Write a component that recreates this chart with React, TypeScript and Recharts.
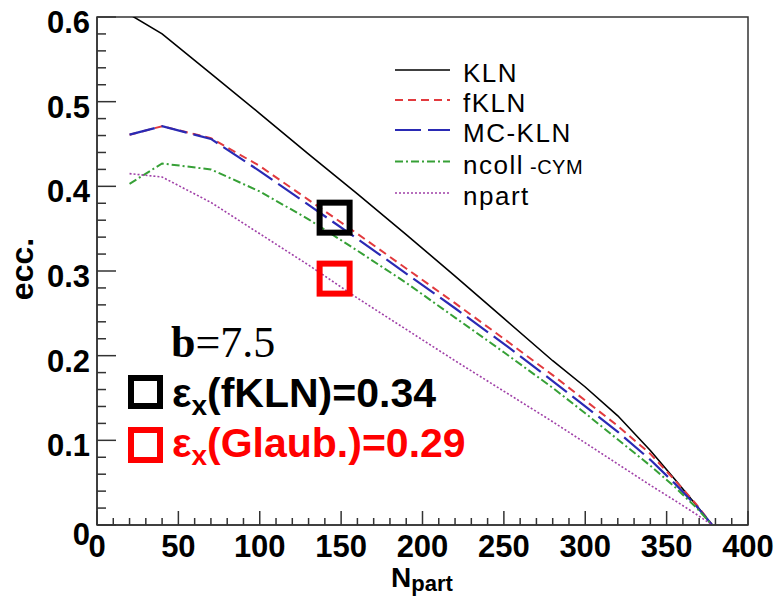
import {
  ComposedChart,
  Line,
  Scatter,
  XAxis,
  YAxis,
  ReferenceArea,
} from "recharts";

const SANS = "'Liberation Sans', Arial, sans-serif";
const SERIF = "'Liberation Serif', 'Times New Roman', serif";
const AXIS = "#333";

// N_part points shared by all curves
const npart = [20, 40, 70, 100, 130, 160, 190, 220, 250, 280, 300, 320, 340, 355, 368, 378];
const kln = [0.603, 0.58, 0.533, 0.486, 0.438, 0.391, 0.343, 0.294, 0.244, 0.194, 0.163, 0.129, 0.088, 0.054, 0.024, 0];
const fkln = [0.461, 0.471, 0.457, 0.424, 0.384, 0.344, 0.303, 0.262, 0.22, 0.177, 0.147, 0.117, 0.084, 0.053, 0.025, 0];
const mckln = [0.461, 0.471, 0.456, 0.418, 0.378, 0.338, 0.297, 0.256, 0.214, 0.17, 0.14, 0.11, 0.077, 0.049, 0.023, 0];
const ncoll = [0.403, 0.427, 0.42, 0.394, 0.361, 0.324, 0.286, 0.245, 0.204, 0.162, 0.132, 0.101, 0.07, 0.045, 0.021, 0];
const npartEcc = [0.415, 0.411, 0.381, 0.344, 0.307, 0.268, 0.231, 0.194, 0.158, 0.122, 0.097, 0.072, 0.047, 0.029, 0.013, 0];

// open boxes marking the quoted eccentricities
const boxN = [146, 146];
const boxEcc = [0.363, 0.291];
const boxColor = ["#000", "#ff0000"];

const xTicks = [0, 10, 20, 30, 40, 50, 60, 70, 80, 90, 100, 110, 120, 130, 140, 150, 160, 170, 180, 190, 200,
  210, 220, 230, 240, 250, 260, 270, 280, 290, 300, 310, 320, 330, 340, 350, 360, 370, 380, 390, 400];
const yTicks = [0, 0.02, 0.04, 0.06, 0.08, 0.1, 0.12, 0.14, 0.16, 0.18, 0.2, 0.22, 0.24, 0.26, 0.28, 0.3,
  0.32, 0.34, 0.36, 0.38, 0.4, 0.42, 0.44, 0.46, 0.48, 0.5, 0.52, 0.54, 0.56, 0.58, 0.6];

const series = [
  { key: "kln", name: "KLN", color: "#000", width: 1.6, dash: undefined },
  { key: "fkln", name: "fKLN", color: "#e23a3e", width: 2, dash: "8 5" },
  { key: "mckln", name: "MC-KLN", color: "#2a2ab4", width: 2.2, dash: "26 7" },
  { key: "ncoll", name: "ncoll", color: "#36a036", width: 2, dash: "8 3 2 3" },
  { key: "npart", name: "npart", color: "#a040a8", width: 1.6, dash: "2 2" },
];

const data = npart.map((n, i) => ({
  n,
  kln: kln[i],
  fkln: fkln[i],
  mckln: mckln[i],
  ncoll: ncoll[i],
  npart: npartEcc[i],
}));

const boxes = boxN.map((n, i) => ({ n, ecc: boxEcc[i], color: boxColor[i] }));

const XTick = ({ x, y, payload }: any) => {
  const major = payload.value % 50 === 0;
  return (
    <g>
      <line x1={x} x2={x} y1={y} y2={y - (major ? 14 : 7)} stroke={AXIS} strokeWidth={1.5} />
      {major && (
        <text x={x} y={y + 32} textAnchor="middle" fontSize={31} fontWeight="bold" fontFamily={SANS} fill="#000">
          {payload.value}
        </text>
      )}
    </g>
  );
};

const YTick = ({ x, y, payload }: any) => {
  const v = payload.value;
  const major = Math.round(v * 100) % 10 === 0;
  return (
    <g>
      <line x1={x} x2={x + (major ? 19 : 9)} y1={y} y2={y} stroke={AXIS} strokeWidth={1.5} />
      {major && (
        <text x={x - 7} y={y + (v === 0 ? 20 : 16)} textAnchor="end" fontSize={31} fontWeight="bold" fontFamily={SANS} fill="#000">
          {v === 0 ? "0" : v.toFixed(1)}
        </text>
      )}
    </g>
  );
};

const BoxShape = ({ cx, cy, payload }: any) => (
  <rect x={cx - 15} y={cy - 15} width={30} height={30} fill="none" stroke={payload.color} strokeWidth={6} />
);

const legendRows = [70, 100, 130, 161.5, 193];

export default function App() {
  return (
    <div style={{ position: "absolute", left: 0, top: 0, width: 775, height: 604, background: "#fff" }}>
      <ComposedChart width={775} height={604} data={data} margin={{ top: 17, right: 27, bottom: 0, left: 0 }}>
        <XAxis
          dataKey="n"
          type="number"
          domain={[0, 400]}
          ticks={xTicks}
          interval={0}
          height={79}
          tickSize={0}
          tickMargin={0}
          stroke={AXIS}
          strokeWidth={1.5}
          tick={<XTick />}
        />
        <YAxis
          type="number"
          domain={[0, 0.6]}
          allowDataOverflow
          ticks={yTicks}
          interval={0}
          width={97}
          tickSize={0}
          tickMargin={0}
          stroke={AXIS}
          strokeWidth={1.5}
          tick={<YTick />}
        />
        <ReferenceArea x1={0} x2={400} y1={0} y2={0.6} fill="none" stroke={AXIS} strokeWidth={1.5} ifOverflow="visible" />
        {series.map((s) => (
          <Line
            key={s.key}
            dataKey={s.key}
            type="linear"
            stroke={s.color}
            strokeWidth={s.width}
            strokeDasharray={s.dash}
            dot={false}
            activeDot={false}
            isAnimationActive={false}
          />
        ))}
        <Scatter data={boxes} dataKey="ecc" shape={<BoxShape />} isAnimationActive={false} />
      </ComposedChart>

      <svg width={775} height={604} style={{ position: "absolute", left: 0, top: 0, pointerEvents: "none" }}>
        {/* axis titles */}
        <text x={33} y={269} transform="rotate(-90 33 269)" textAnchor="middle" fontSize={32} fontWeight="bold" fontFamily={SANS}>
          ecc.
        </text>
        <text x={391} y={587} fontSize={28} fontWeight="bold" fontFamily={SANS}>
          N<tspan fontSize={22} dy={4}>part</tspan>
        </text>

        {/* legend */}
        {series.map((s, i) => (
          <g key={s.key}>
            <line x1={395} x2={450} y1={legendRows[i]} y2={legendRows[i]} stroke={s.color} strokeWidth={s.width} strokeDasharray={s.dash} />
            <text x={463} y={legendRows[i] + 12} fontSize={26} letterSpacing={1.5} fontFamily={SANS} fill="#000">
              {s.name}
              {s.key === "ncoll" && <tspan fontSize={20} dx={6} letterSpacing={0.5}>-CYM</tspan>}
            </text>
          </g>
        ))}

        {/* annotations */}
        <text x={171} y={357} fontSize={44} fontFamily={SERIF} fill="#000">
          <tspan fontWeight="bold">b</tspan>=7.5
        </text>
        <rect x={131} y={378} width={29} height={28} fill="none" stroke="#000" strokeWidth={6} />
        <text x={172} y={407} fontSize={41} fontWeight="bold" fontFamily={SANS} fill="#000">
          ε<tspan fontSize={28} dy={8}>x</tspan><tspan dy={-8}>(fKLN)=0.34</tspan>
        </text>
        <rect x={131} y={430} width={29} height={30} fill="none" stroke="#ff0000" strokeWidth={6} />
        <text x={172} y={457} fontSize={41} fontWeight="bold" fontFamily={SANS} fill="#ff0000">
          ε<tspan fontSize={28} dy={8}>x</tspan><tspan dy={-8}>(Glaub.)=0.29</tspan>
        </text>
      </svg>
    </div>
  );
}
